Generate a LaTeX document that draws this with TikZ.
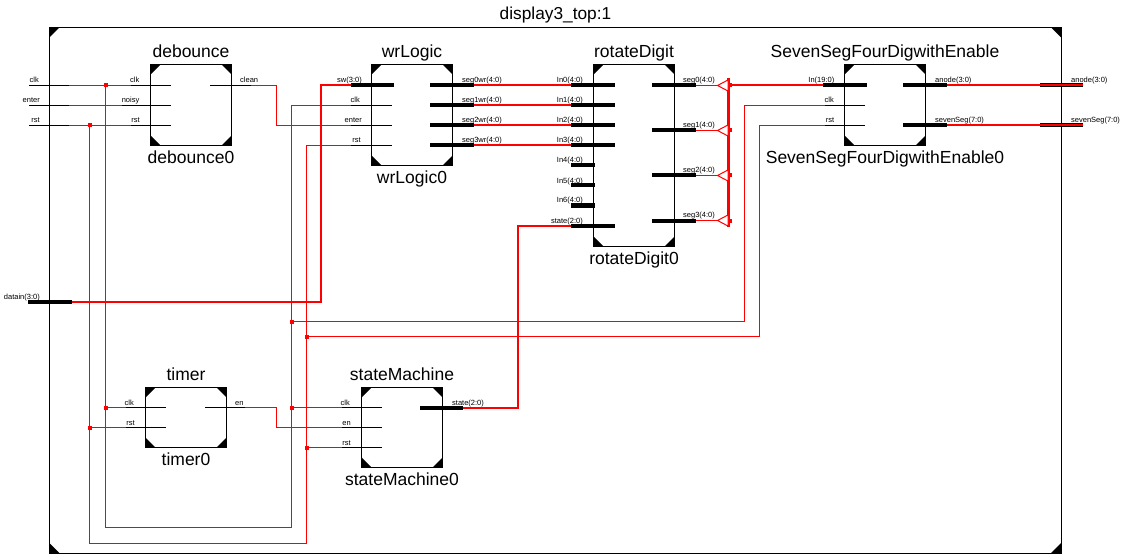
\documentclass[tikz,border=0pt]{standalone}
\usepackage{fontspec}
\setmainfont{Liberation Sans}
\definecolor{netred}{RGB}{255,0,0}
\newcommand{\lblfont}{\fontsize{7.5}{8}\selectfont}
\newcommand{\ttlfont}{\fontsize{17.5}{19}\selectfont}
\tikzset{
  x=1pt,y=-1pt,
  stub/.style={draw=black,line width=1pt},
  busline/.style={draw=black,line width=4pt},
  wire/.style={draw=netred,line width=1pt,line join=miter},
  buswire/.style={draw=netred,line width=2pt,line join=miter},
  trunk/.style={draw=netred,line width=2.5pt},
  junct/.style={fill=netred,inner sep=0pt,minimum size=4pt,rectangle},
  pinlabelL/.style={anchor=base east,inner sep=0pt,font=\lblfont},
  pinlabelR/.style={anchor=base west,inner sep=0pt,font=\lblfont},
  title/.style={anchor=base,inner sep=0pt,font=\ttlfont},
  boxshape/.style={draw=black,line width=1pt,rectangle,inner sep=0pt},
  corner/.style={fill=black,draw=none},
  buffer/.style={draw=netred,line width=1pt,fill=white,line join=miter},
}
% corners of a box node: #1 name, #2 size
\newcommand{\corners}[2]{%
  \fill[corner] (#1.north west) -- ++(#2,0) -- ++(-#2,-#2) -- cycle;
  \fill[corner] (#1.north east) -- ++(-#2,0) -- ++(#2,-#2) -- cycle;
  \fill[corner] (#1.south west) -- ++(#2,0) -- ++(-#2,#2) -- cycle;
  \fill[corner] (#1.south east) -- ++(-#2,0) -- ++(#2,#2) -- cycle;
}
% #1 name #2 x1 #3 y1 #4 x2 #5 y2 #6 title #7 instance
\newcommand{\blk}[7]{%
  \pgfmathsetmacro{\bw}{#4-#2}\pgfmathsetmacro{\bh}{#5-#3}%
  \pgfmathsetmacro{\bcx}{(#2+#4)/2}\pgfmathsetmacro{\bcy}{(#3+#5)/2}%
  \pgfmathsetmacro{\bty}{#3-7}\pgfmathsetmacro{\bby}{#5+18}%
  \node[boxshape,minimum width=\bw pt,minimum height=\bh pt,outer sep=0pt] (#1) at (\bcx,\bcy) {};
  \corners{#1}{10pt}
  \node[title] (#1-title) at (\bcx,\bty) {#6};
  \node[title] (#1-inst) at (\bcx,\bby) {#7};
}
% pins: #1 style #2 name #3 x #4 x #5 y #6 label x #7 label text
\newcommand{\pinL}[7][stub]{%
  \coordinate (#2-o) at (#3,#5);\coordinate (#2-i) at (#4,#5);
  \draw[#1] (#2-o) -- (#2-i);
  \pgfmathsetmacro{\ly}{#5-2.5}%
  \node[pinlabelL] (#2-l) at (#6,\ly) {#7};
}
\newcommand{\pinR}[7][stub]{%
  \coordinate (#2-o) at (#4,#5);\coordinate (#2-i) at (#3,#5);
  \draw[#1] (#2-i) -- (#2-o);
  \pgfmathsetmacro{\ly}{#5-2.5}%
  \node[pinlabelR] (#2-l) at (#6,\ly) {#7};
}
\begin{document}
\begin{tikzpicture}
\useasboundingbox (0,0) rectangle (1121,556);
% frame
\node[boxshape,minimum width=1011.5pt,minimum height=525.5pt,outer sep=0pt] (top) at (555.25,290.25) {};
\corners{top}{10pt}
\node[title,font=\fontsize{17.3}{19}\selectfont] (top-title) at (555.5,20) {display3\_top:1};

% top-level ports
\pinL{pclk}{29}{69}{85.5}{39}{clk}
\pinL{penter}{29}{69}{105.5}{40}{enter}
\pinL{prst}{29}{69}{125.5}{40}{rst}
\pinL[busline]{pdata}{28}{71.5}{301.5}{40}{datain(3:0)}
\pinR[busline]{panode}{1040}{1083}{85.5}{1071}{anode(3:0)}
\pinR[busline]{pseven}{1040}{1083}{125.5}{1071}{sevenSeg(7:0)}

% debounce
\blk{db}{150.5}{64.5}{231.5}{145.5}{debounce}{debounce0}
\pinL{dbclk}{131}{171}{85.5}{139.5}{clk}
\pinL{dbnoisy}{122}{171}{105.5}{139.5}{noisy}
\pinL{dbrst}{131}{171}{125.5}{140}{rst}
\pinR{dbclean}{210}{251}{85.5}{240}{clean}

% wrLogic
\blk{wl}{371.5}{64.5}{452.5}{165.5}{wrLogic}{wrLogic0}
\pinL[busline]{wlsw}{351}{394}{85.5}{362}{sw(3:0)}
\pinL{wlclk}{351}{392}{105.5}{360}{clk}
\pinL{wlenter}{351}{392}{125.5}{362}{enter}
\pinL{wlrst}{351}{392}{145.5}{361}{rst}
\pinR[busline]{wlsa}{430}{474}{85.5}{462}{seg0wr(4:0)}
\pinR[busline]{wlsb}{430}{474}{105.5}{462}{seg1wr(4:0)}
\pinR[busline]{wlsc}{430}{474}{125.5}{462}{seg2wr(4:0)}
\pinR[busline]{wlsd}{430}{474}{145.5}{462}{seg3wr(4:0)}

% rotateDigit
\blk{rd}{593.5}{64.5}{674.5}{246.5}{rotateDigit}{rotateDigit0}
\pinL[busline]{rda}{571}{615}{85.5}{583}{In0(4:0)}
\pinL[busline]{rdb}{571}{615}{105.5}{583}{In1(4:0)}
\pinL[busline]{rdc}{571}{615}{125.5}{583}{In2(4:0)}
\pinL[busline]{rdd}{571}{615}{145.5}{583}{In3(4:0)}
\pinL[busline]{rde}{571}{595}{165.5}{583}{In4(4:0)}
\pinL[busline]{rdf}{571}{595}{185.5}{583}{In5(4:0)}
\pinL[busline]{rdg}{571}{595}{205.5}{583}{In6(4:0)}
\pinL[busline]{rdstate}{571}{615}{225.5}{583}{state(2:0)}
\pinR[busline]{rdsa}{652}{695.5}{85.5}{683}{seg0(4:0)}
\pinR[busline]{rdsb}{652}{695.5}{130.5}{683}{seg1(4:0)}
\pinR[busline]{rdsc}{652}{695.5}{175.5}{683}{seg2(4:0)}
\pinR[busline]{rdsd}{652}{695.5}{220.5}{683}{seg3(4:0)}

% SevenSeg
\blk{ss}{844.5}{64.5}{925.5}{145.5}{SevenSegFourDigwithEnable}{SevenSegFourDigwithEnable0}
\pinL[busline]{ssin}{823}{867}{85.5}{834.5}{In(19:0)}
\pinL{ssclk}{825}{865}{105.5}{834}{clk}
\pinL{ssrst}{825}{865}{125.5}{834.5}{rst}
\pinR[busline]{ssan}{903}{947}{85.5}{935}{anode(3:0)}
\pinR[busline]{ssse}{903}{947}{125.5}{935}{sevenSeg(7:0)}

% timer
\blk{tm}{145.5}{387.5}{226.5}{447.5}{timer}{timer0}
\pinL{tmclk}{126}{166}{407.5}{134}{clk}
\pinL{tmrst}{126}{166}{427.5}{135}{rst}
\pinR{tmen}{205}{245}{407.5}{235}{en}

% stateMachine
\blk{sm}{361.5}{387.5}{442.5}{467.5}{stateMachine}{stateMachine0}
\pinL{smclk}{342}{382}{407.5}{350}{clk}
\pinL{smen}{342}{382}{427.5}{351}{en}
\pinL{smrst}{342}{382}{447.5}{351}{rst}
\pinR[busline]{smst}{420}{463}{407.5}{452}{state(2:0)}

% routing points
\coordinate (cleanA) at (276.5,85.5);
\coordinate (cleanB) at (276.5,125.5);
\coordinate (enA) at (276.5,407.5);
\coordinate (enB) at (276.5,427.5);
\coordinate (clkB) at (105.5,527.5);
\coordinate (clkC) at (291.5,527.5);
\coordinate (clkD) at (291.5,105.5);
\coordinate (rstB) at (89.5,543.5);
\coordinate (rstC) at (306.5,543.5);
\coordinate (rstD) at (306.5,145.5);
\coordinate (dataA) at (321,301.5);
\coordinate (dataB) at (321,85.5);
\coordinate (stA) at (518,407.5);
\coordinate (stB) at (518,225.5);
\coordinate (ssclkA) at (744.5,105.5);
\coordinate (ssclkB) at (744.5,321.5);
\coordinate (ssrstA) at (759.5,125.5);
\coordinate (ssrstB) at (759.5,336.5);
\coordinate (trunkT) at (728.5,78.5);
\coordinate (trunkB) at (728.5,227);

% junctions
\node[junct] (jclk1) at (105.5,85.5) {};
\node[junct] (jrst1) at (89.5,125.5) {};
\node[junct] (jclk2) at (105.5,407.5) {};
\node[junct] (jrst2) at (89.5,427.5) {};
\node[junct] (jclk3) at (291.5,407.5) {};
\node[junct] (jrst3) at (306.5,447.5) {};
\node[junct] (jclk4) at (291.5,321.5) {};
\node[junct] (jrst4) at (306.5,336.5) {};
\node[junct] (jtr1) at (730,85.5) {};
\node[junct] (jtr2) at (730,130.5) {};
\node[junct] (jtr3) at (730,175.5) {};
\node[junct] (jtr4) at (730,220.5) {};

% thin nets
\draw[wire] (pclk-i) -- (dbclk-o);
\draw[wire] (penter-i) -- (dbnoisy-o);
\draw[wire] (prst-i) -- (dbrst-o);
\draw[wire] (jclk1.center) -- (clkB) -- (clkC) -- (clkD) -- (wlclk-o);
\draw[wire] (jrst1.center) -- (rstB) -- (rstC) -- (rstD) -- (wlrst-o);
\draw[wire] (dbclean-o) -- (cleanA) -- (cleanB) -- (wlenter-o);
\draw[wire] (jclk2.center) -- (tmclk-o);
\draw[wire] (jrst2.center) -- (tmrst-o);
\draw[wire] (jclk3.center) -- (smclk-o);
\draw[wire] (jrst3.center) -- (smrst-o);
\draw[wire] (tmen-o) -- (enA) -- (enB) -- (smen-o);
\draw[wire] (jclk4.center) -- (ssclkB) -- (ssclkA) -- (ssclk-o);
\draw[wire] (jrst4.center) -- (ssrstB) -- (ssrstA) -- (ssrst-o);

% buses
\draw[buswire] (pdata-i) -- (dataA) -- (dataB) -- (wlsw-o);
\draw[buswire] (wlsa-o) -- (rda-o);
\draw[buswire] (wlsb-o) -- (rdb-o);
\draw[buswire] (wlsc-o) -- (rdc-o);
\draw[buswire] (wlsd-o) -- (rdd-o);
\draw[buswire] (smst-o) -- (stA) -- (stB) -- (rdstate-o);
\draw[buswire] (ssan-o) -- (panode-o);
\draw[buswire] (ssse-o) -- (pseven-o);
\draw[buswire] (jtr1.center) -- (ssin-o);
\draw[trunk] (trunkT) -- (trunkB);

% buffers
\foreach \n in {sa,sb,sc,sd}{
  \draw[wire] (rd\n-o) -- ++(22,0) coordinate (buf\n);
  \draw[buffer] (buf\n) -- ++(10.5,-5.5) -- ++(0,11) -- cycle;
}
\end{tikzpicture}
\end{document}
